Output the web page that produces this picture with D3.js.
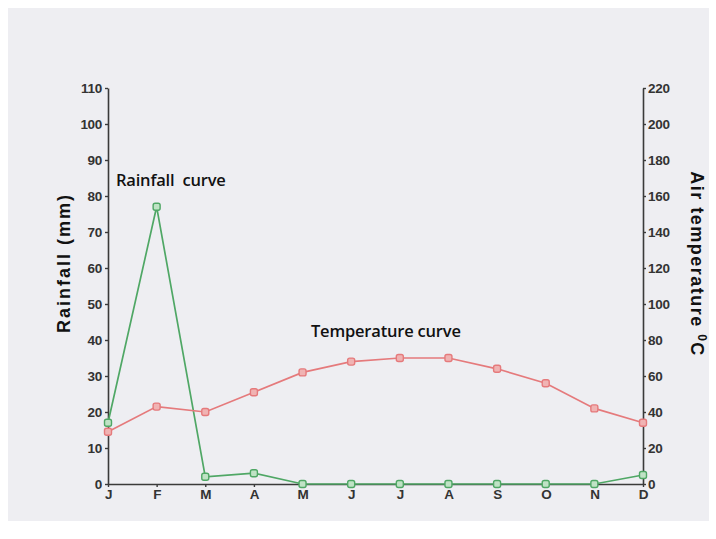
<!DOCTYPE html>
<html><head><meta charset="utf-8">
<script src="https://cdn.jsdelivr.net/npm/d3@7"></script>
<style>body{margin:0;background:#fff;}svg{display:block;}text{white-space:pre;}</style>
</head><body>
<svg id="c" width="716" height="539"></svg>
<script>
const months = ["J","F","M","A","M","J","J","A","S","O","N","D"];
const rainfall = [17, 77, 2, 3, 0, 0, 0, 0, 0, 0, 0, 2.5];
const temperature = [29, 43, 40, 51, 62, 68, 70, 70, 64, 56, 42, 34];
const rainTicks = [0,10,20,30,40,50,60,70,80,90,100,110];
const tempTicks = [0,20,40,60,80,100,120,140,160,180,200,220];

const svg = d3.select("#c");
svg.append("rect").attr("x",8).attr("y",8).attr("width",701).attr("height",513).attr("fill","#eeeef2");

const pL = 108, pR = 643, pT = 88, pB = 484;
const x = d3.scalePoint().domain(d3.range(12)).range([pL, pR]);
const yR = d3.scaleLinear().domain([0,110]).range([pB, pT]);
const yT = d3.scaleLinear().domain([0,220]).range([pB, pT]);

const axisColor = "#3a3a3a";
const tickFont = "bold 13.5px 'Liberation Sans', Arial, sans-serif";

function style(g){
  g.select(".domain").attr("stroke",axisColor).attr("stroke-width",1.6);
  g.selectAll(".tick line").attr("stroke",axisColor).attr("stroke-width",1.4);
  g.selectAll(".tick text").attr("fill","#333").style("font",tickFont).attr("letter-spacing","-0.3");
}

svg.append("g").attr("transform",`translate(${pL},0)`)
  .call(d3.axisLeft(yR).tickValues(rainTicks).tickSize(3).tickSizeOuter(0).tickPadding(3))
  .call(style);
svg.append("g").attr("transform",`translate(${pR},0)`)
  .call(d3.axisRight(yT).tickValues(tempTicks).tickSize(3).tickSizeOuter(0).tickPadding(2))
  .call(style);
svg.append("g").attr("transform",`translate(0,${pB})`)
  .call(d3.axisBottom(x).tickFormat(i=>months[i]).tickSize(3).tickSizeOuter(0).tickPadding(2))
  .call(style);

const green = "#4fa765", red = "#e57a7c";
const lineR = d3.line().x((d,i)=>x(i)).y(d=>yR(d));
const lineT = d3.line().x((d,i)=>x(i)).y(d=>yT(d));

svg.append("path").datum(rainfall).attr("d",lineR).attr("fill","none").attr("stroke",green).attr("stroke-width",1.7);
svg.append("path").datum(temperature).attr("d",lineT).attr("fill","none").attr("stroke",red).attr("stroke-width",1.7);

const ms = 7;
svg.append("g").selectAll("rect").data(temperature).join("rect")
  .attr("x",(d,i)=>x(i)-ms/2).attr("y",d=>yT(d)-ms/2).attr("width",ms).attr("height",ms).attr("rx",2)
  .attr("fill","#f0b3b3").attr("stroke",red).attr("stroke-width",1.4);
svg.append("g").selectAll("rect").data(rainfall).join("rect")
  .attr("x",(d,i)=>x(i)-ms/2).attr("y",d=>yR(d)-ms/2).attr("width",ms).attr("height",ms).attr("rx",2)
  .attr("fill","#bfe3c5").attr("stroke",green).attr("stroke-width",1.4);

const annFont = "600 16.5px 'Open Sans', 'Noto Sans', sans-serif";
svg.append("text").attr("x",116).attr("y",186).style("font",annFont).attr("fill","#111").attr("letter-spacing","-0.2").text("Rainfall  curve");
svg.append("text").attr("x",311).attr("y",337).style("font",annFont).attr("fill","#111").attr("letter-spacing","-0.2").text("Temperature curve");

const titleFont = "bold 18px 'Liberation Sans', Arial, sans-serif";
svg.append("text").attr("transform","translate(70,263) rotate(-90)").attr("text-anchor","middle")
  .style("font",titleFont).attr("letter-spacing","2").attr("fill","#111").text("Rainfall (mm)");
const tt = svg.append("text").attr("transform","translate(691,264) rotate(90)").attr("text-anchor","middle")
  .style("font",titleFont).attr("letter-spacing","1.5").attr("fill","#111");
tt.append("tspan").text("Air temperature ");
tt.append("tspan").attr("dy",-7).style("font-size","12px").text("0");
tt.append("tspan").attr("dy",7).text("C");
</script>
</body></html>
